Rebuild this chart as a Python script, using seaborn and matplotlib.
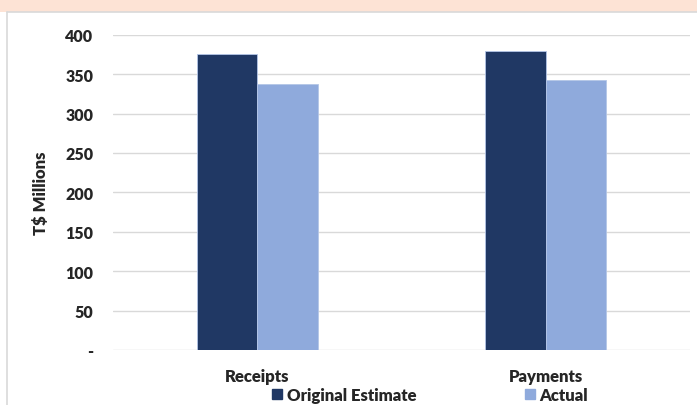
import matplotlib.pyplot as plt
import matplotlib.patches as mpatches
import seaborn as sns
import pandas as pd

categories = ['Receipts', 'Payments']
series = ['Original Estimate', 'Actual']
original_estimate = [375, 379]
actual = [338, 342]
y_ticks = [0, 50, 100, 150, 200, 250, 300, 350, 400]
y_tick_labels = ['-', '50', '100', '150', '200', '250', '300', '350', '400']

df = pd.DataFrame({
    'category': categories * 2,
    'series': [series[0]] * 2 + [series[1]] * 2,
    'value': original_estimate + actual,
})

sns.set_style('white')
plt.rcParams['font.family'] = ['Lato', 'DejaVu Sans']

fig = plt.figure(figsize=(6.97, 4.06), dpi=100)
fig.patch.set_facecolor('white')

# peach strip on top and the thin frame around the chart
fig.patches.append(mpatches.Rectangle((0, 1 - 13 / 406), 1, 13 / 406,
                                      transform=fig.transFigure, facecolor='#fde3d5',
                                      edgecolor='none', zorder=0))
fig.add_artist(plt.Line2D([7 / 697, 7 / 697], [0, 1 - 13 / 406], color='#d9d9d9', lw=1.2,
                          transform=fig.transFigure))
fig.add_artist(plt.Line2D([7 / 697, 1], [1 - 13 / 406, 1 - 13 / 406], color='#d9d9d9', lw=1.2,
                          transform=fig.transFigure))

ax = fig.add_axes([113 / 697, 1 - 351 / 406, 577 / 697, (351 - 35.7) / 406])
colors = ['#203864', '#8faadc']
sns.barplot(data=df, x='category', y='value', hue='series', order=categories,
            hue_order=series, palette=colors, saturation=1, width=0.42, ax=ax,
            edgecolor='#b4c6e7', linewidth=0.6, legend=False, zorder=3)

ax.set_ylim(0, 400)
ax.set_xlim(-0.5, 1.5)
ax.set_yticks(y_ticks)
ax.set_yticklabels(y_tick_labels, fontsize=11.5, fontweight='heavy')
ax.tick_params(axis='y', length=0, pad=14)
ax.tick_params(axis='x', length=0, pad=13, labelsize=12)
for lbl in ax.get_xticklabels():
    lbl.set_fontweight('heavy')
ax.yaxis.grid(True, color='#d9d9d9', linewidth=1)
ax.set_axisbelow(True)
for s in ax.spines.values():
    s.set_visible(False)
ax.set_xlabel('')
ax.set_ylabel('T$ Millions', fontsize=12, fontweight='heavy', labelpad=12)

handles = [mpatches.Patch(color=c, label=s) for c, s in zip(colors, series)]
fig.legend(handles=handles, loc='center', bbox_to_anchor=(430 / 697, 1 - 396 / 406),
           ncol=2, frameon=False, handlelength=0.6, handleheight=0.6,
           handletextpad=0.3, columnspacing=6.5, prop={'weight': 'heavy', 'size': 12})

fig.savefig('out.png', dpi=100)
